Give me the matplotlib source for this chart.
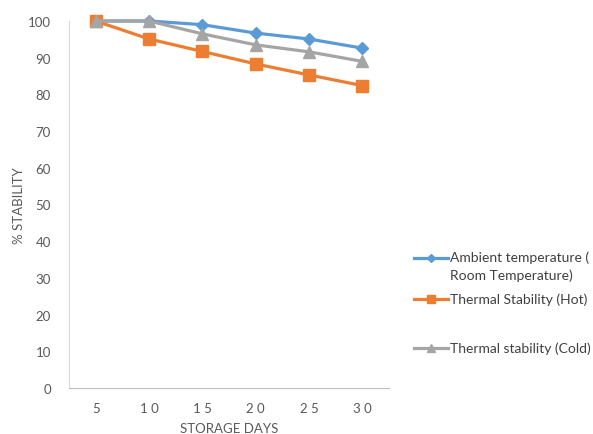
import matplotlib
matplotlib.use("Agg")
import matplotlib.pyplot as plt
from matplotlib.lines import Line2D

plt.rcParams['font.family'] = ['Lato', 'DejaVu Sans']

days = ["5", "10", "15", "20", "25", "30"]
ambient = [100, 100, 99.0, 96.7, 95.1, 92.6]
hot = [100, 95.1, 91.7, 88.3, 85.3, 82.4]
cold = [100, 100, 96.5, 93.5, 91.6, 89.0]
labels = ["Ambient temperature (\nRoom Temperature)", "Thermal Stability (Hot)", "Thermal stability (Cold)"]
yticks = [0, 10, 20, 30, 40, 50, 60, 70, 80, 90, 100]

fig = plt.figure(figsize=(5.93, 4.35), dpi=100)
ax = fig.add_axes([69/593, 46/435, 320/593, 367/435])

x = list(range(len(days)))
c_amb, c_hot, c_cold = '#5B9BD5', '#ED7D31', '#A5A5A5'
l1, = ax.plot(x, ambient, color=c_amb, lw=2.3, marker='D', ms=6, zorder=3, clip_on=False)
l2, = ax.plot(x, hot, color=c_hot, lw=2.3, marker='s', ms=8, zorder=4, clip_on=False)
l3, = ax.plot(x, cold, color=c_cold, lw=2.3, marker='^', ms=8, zorder=5, clip_on=False)

ax.set_xlim(-0.5, len(days) - 0.5)
ax.set_ylim(0, 100)
ax.set_yticks(yticks)
ax.set_xticks(x)
ax.set_xticklabels([" ".join(d) for d in days])
for s in ['top', 'right']:
    ax.spines[s].set_visible(False)
ax.spines['left'].set_color('#D9D9D9')
ax.spines['bottom'].set_color('#BFBFBF')
ax.tick_params(length=0, colors='#595959', labelsize=9.5)
ax.tick_params(axis='y', pad=13)
ax.tick_params(axis='x', pad=10)
ax.set_xlabel("STORAGE DAYS", color='#595959', fontsize=9.5, labelpad=6)
ax.set_ylabel("% STABILITY", color='#595959', fontsize=9.5, labelpad=2)

# legend drawn manually
ys = [259, 300, 349]
for line, lab, yp in zip([l1, l2, l3], labels, ys):
    yf = 1 - yp / 435
    fig.add_artist(Line2D([414/593, 448/593], [yf, yf], transform=fig.transFigure,
                          color=line.get_color(), lw=2.3))
    fig.add_artist(Line2D([431/593], [yf], transform=fig.transFigure, color=line.get_color(),
                          marker=line.get_marker(), ms=line.get_markersize() * 0.75, lw=0))
    if '\n' in lab:
        fig.text(450/593, 1 - (yp - 8) / 435, lab, va='top', ha='left',
                 fontsize=10, color='#404040', linespacing=1.55)
    else:
        fig.text(450/593, yf, lab, va='center', ha='left', fontsize=10, color='#404040')

fig.savefig("out.png", dpi=100)
